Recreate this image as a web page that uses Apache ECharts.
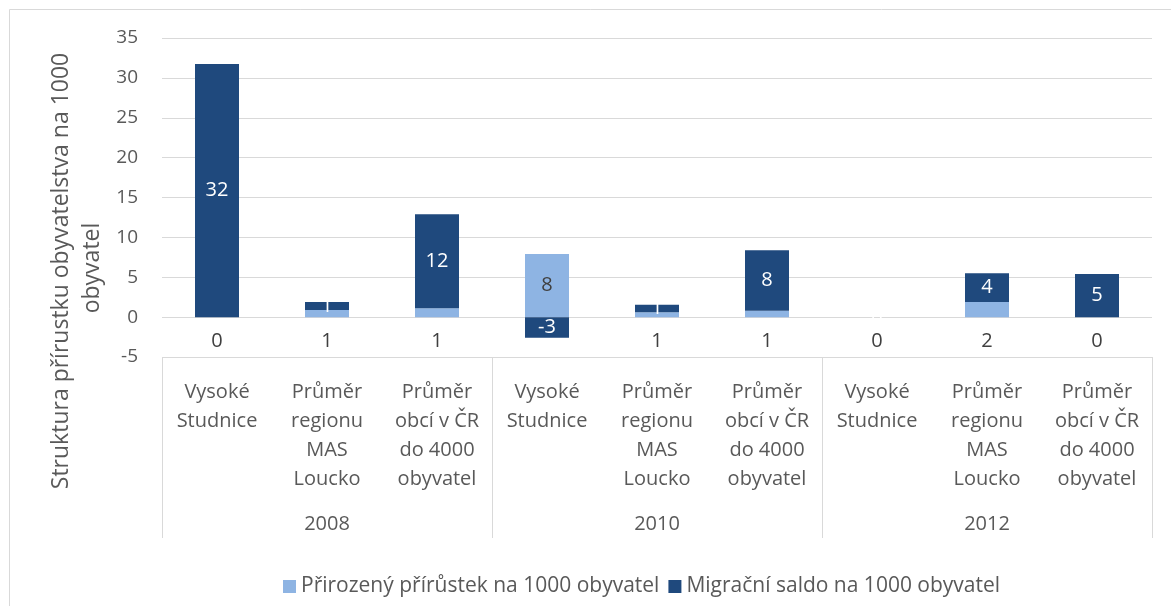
<!DOCTYPE html>
<html>
<head>
<meta charset="utf-8">
<script src="https://cdn.jsdelivr.net/npm/echarts@6/dist/echarts.min.js"></script>
<style>
  html, body { margin: 0; padding: 0; background: #ffffff; }
  #chart { width: 1171px; height: 606px; }
</style>
</head>
<body>
<div id="chart"></div>
<script>
// Population growth structure per 1000 inhabitants
const years = ['2008', '2010', '2012'];
const places = [
  'Vysoké\nStudnice',
  'Průměr\nregionu\nMAS\nLoucko',
  'Průměr\nobcí v ČR\ndo 4000\nobyvatel'
];
// natural increase per 1000 inhabitants (year by year, places in order)
const naturalIncrease = [0, 0.9, 1.1, 7.9, 0.6, 0.8, 0, 1.9, 0];
// net migration per 1000 inhabitants
const netMigration = [31.75, 1.0, 11.8, -2.6, 0.95, 7.6, 0, 3.6, 5.4];
const yTicks = { min: -5, max: 35, step: 5 };
const seriesNames = ['Přirozený přírůstek na 1000 obyvatel', 'Migrační saldo na 1000 obyvatel'];
const axisTitle = 'Struktura přírustku obyvatelstva na 1000 obyvatel';

const FONT = '"Open Sans", sans-serif';
const TEXT = '#595959';
const GRID = '#d9d9d9';
const LIGHT = '#8eb4e3';
const DARK = '#1f497d';

// one category per (year, place) pair
const categories = [];
years.forEach(() => places.forEach(p => categories.push(p)));

// small natural-increase bars get their label under the bar
const naturalData = naturalIncrease.map(v => ({
  value: v,
  label: Math.abs(v) >= 3
    ? { position: 'inside' }
    : { position: 'bottom', distance: 14 }
}));

const chart = echarts.init(document.getElementById('chart'));
chart.setOption({
  animation: false,
  backgroundColor: '#ffffff',
  textStyle: { fontFamily: FONT },
  grid: { left: 162, right: 19, top: 38, bottom: 249, containLabel: false },
  legend: {
    bottom: 4,
    left: 278,
    itemWidth: 13,
    itemHeight: 13,
    itemGap: 9,
    icon: 'rect',
    textStyle: { fontFamily: FONT, fontSize: 21, color: TEXT },
    data: seriesNames
  },
  xAxis: [
    {
      type: 'category',
      data: categories,
      position: 'bottom',
      axisLine: { show: false },
      axisTick: { show: false },
      axisLabel: {
        interval: 0,
        margin: 21,
        fontFamily: FONT,
        fontSize: 20,
        lineHeight: 29,
        color: TEXT,
        align: 'center',
        verticalAlign: 'top'
      }
    },
    {
      type: 'category',
      data: years,
      position: 'bottom',
      axisLine: { show: false },
      axisTick: {
        show: true,
        length: 181,
        lineStyle: { color: GRID, width: 1 }
      },
      axisLabel: {
        interval: 0,
        margin: 157,
        fontFamily: FONT,
        fontSize: 20,
        color: TEXT
      }
    }
  ],
  yAxis: {
    type: 'value',
    min: yTicks.min,
    max: yTicks.max,
    interval: yTicks.step,
    axisLine: { show: false },
    axisTick: { show: false },
    splitLine: { lineStyle: { color: GRID, width: 1 } },
    axisLabel: { margin: 24, fontFamily: FONT, fontSize: 19, color: TEXT }
  },
  graphic: [
    {
      type: 'rect',
      silent: true,
      shape: { x: 9.5, y: 9.5, width: 1300, height: 800 },
      style: { fill: 'none', stroke: GRID, lineWidth: 1 }
    },
    {
      type: 'text',
      silent: true,
      x: 77,
      y: 268,
      rotation: Math.PI / 2,
      style: {
        text: axisTitle,
        width: 495,
        overflow: 'break',
        fontFamily: FONT,
        fontSize: 23,
        lineHeight: 31,
        fill: TEXT,
        align: 'center',
        verticalAlign: 'middle'
      }
    }
  ],
  series: [
    {
      name: seriesNames[0],
      type: 'bar',
      stack: 'growth',
      barWidth: '40%',
      itemStyle: { color: LIGHT },
      label: {
        show: true,
        fontFamily: FONT,
        fontSize: 20,
        color: '#404040',
        formatter: p => String(Math.round(p.value))
      },
      data: naturalData
    },
    {
      name: seriesNames[1],
      type: 'bar',
      stack: 'growth',
      barWidth: '40%',
      itemStyle: { color: DARK },
      label: {
        show: true,
        position: 'inside',
        fontFamily: FONT,
        fontSize: 20,
        color: '#ffffff',
        formatter: p => String(Math.round(p.value))
      },
      data: netMigration
    }
  ]
});
</script>
</body>
</html>
